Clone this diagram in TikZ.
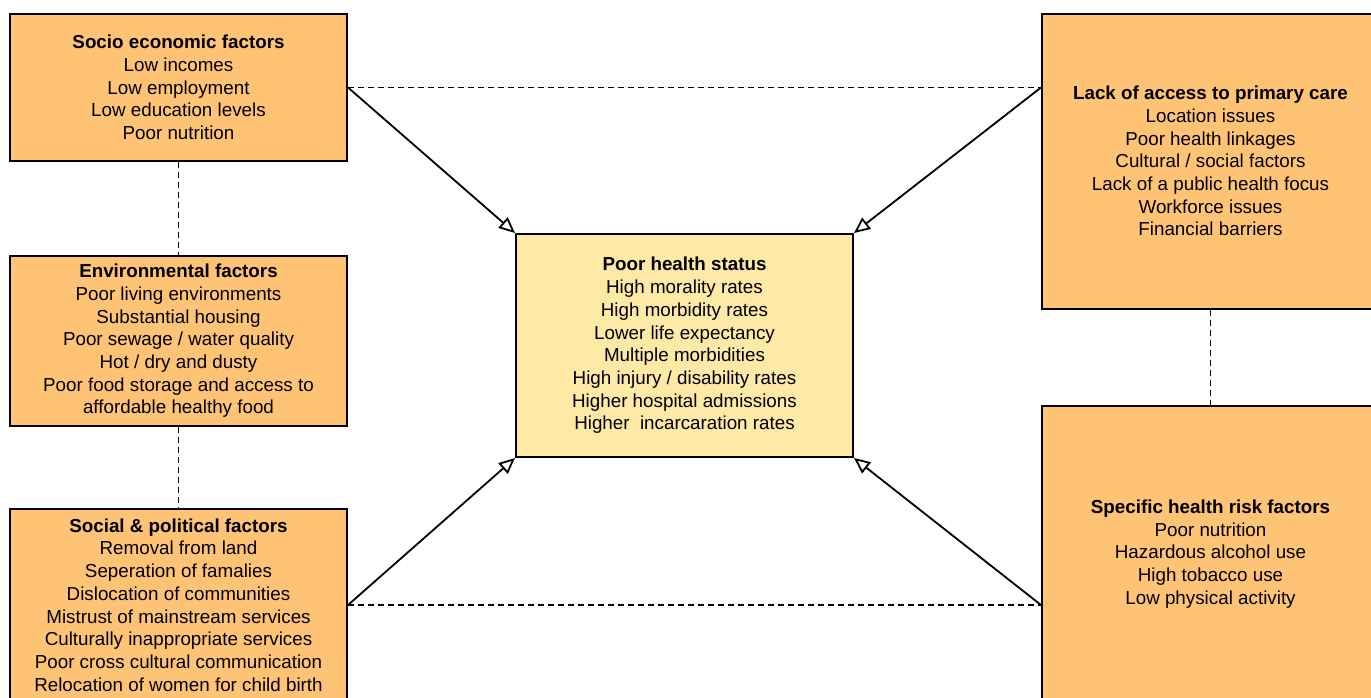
\documentclass[tikz,border=0pt]{standalone}
\usepackage{fontspec}
\setmainfont{Liberation Sans}
\usetikzlibrary{arrows.meta}

\definecolor{factorfill}{HTML}{FFC375}
\definecolor{statusfill}{HTML}{FFE9A6}

\tikzset{
  factor/.style = {draw, line width=1pt, fill=factorfill, align=center,
    minimum width=168.5pt, inner sep=0pt,
    font=\fontsize{9.4pt}{11.35pt}\selectfont},
  hub/.style = {factor, fill=statusfill},
  feeds/.style = {line width=0.9pt, -{Triangle[open, length=8pt, width=7pt]}},
  links/.style = {line width=0.9pt, dash pattern=on 3pt off 2pt}
}

\begin{document}
\begin{tikzpicture}[x=0.5pt, y=-0.5pt]

    \useasboundingbox (0,0) rectangle (1371,697);
    \clip (0,0) rectangle (1371,697);

    % left column
    \node [factor, minimum height=73.5pt] (socio) at (178.5,87.5)
      {\textbf{Socio economic factors}\\Low incomes\\Low employment\\Low education levels\\Poor nutrition};
    \node [factor, minimum height=85pt] (env) at (178.5,341)
      {\textbf{Environmental factors}\\Poor living environments\\Substantial housing\\Poor sewage / water quality\\Hot / dry and dusty\\Poor food storage and access to\\affordable healthy food};
    \node [factor, minimum height=96pt] (social) at (178.5,605)
      {\textbf{Social \& political factors}\\Removal from land\\Seperation of famalies\\Dislocation of communities\\Mistrust of mainstream services\\Culturally inappropriate services\\Poor cross cultural communication\\Relocation of women for child birth};

    % centre
    \node [hub, minimum height=111.5pt] (status) at (684.5,345.5)
      {\textbf{Poor health status}\\High morality rates\\High morbidity rates\\Lower life expectancy\\Multiple morbidities\\High injury / disability rates\\Higher hospital admissions\\Higher~ incarcaration rates};

    % right column
    \node [factor, minimum height=147.5pt] (access) at (1210.5,161)
      {\textbf{Lack of access to primary care}\\Location issues\\Poor health linkages\\Cultural / social factors\\Lack of a public health focus\\Workforce issues\\Financial barriers};
    \node [factor, minimum height=148pt] (risk) at (1210.5,554)
      {\textbf{Specific health risk factors}\\Poor nutrition\\Hazardous alcohol use\\High tobacco use\\Low physical activity};

    \coordinate (accessin) at (access.west |- socio.east);
    \coordinate (riskin) at (risk.west |- social.east);

    % dashed links
    \draw [links] (socio.south) -- (env.north);
    \draw [links] (env.south) -- (social.north);
    \draw [links] (access.south) -- (risk.north);
    \draw [links] (socio.east) -- (accessin);
    \draw [links] (social.east) -- (riskin);

    % arrows into the centre
    \draw [feeds] (socio.east) -- (status.north west);
    \draw [feeds] (accessin) -- (status.north east);
    \draw [feeds] (social.east) -- (status.south west);
    \draw [feeds] (riskin) -- (status.south east);

\end{tikzpicture}
\end{document}
